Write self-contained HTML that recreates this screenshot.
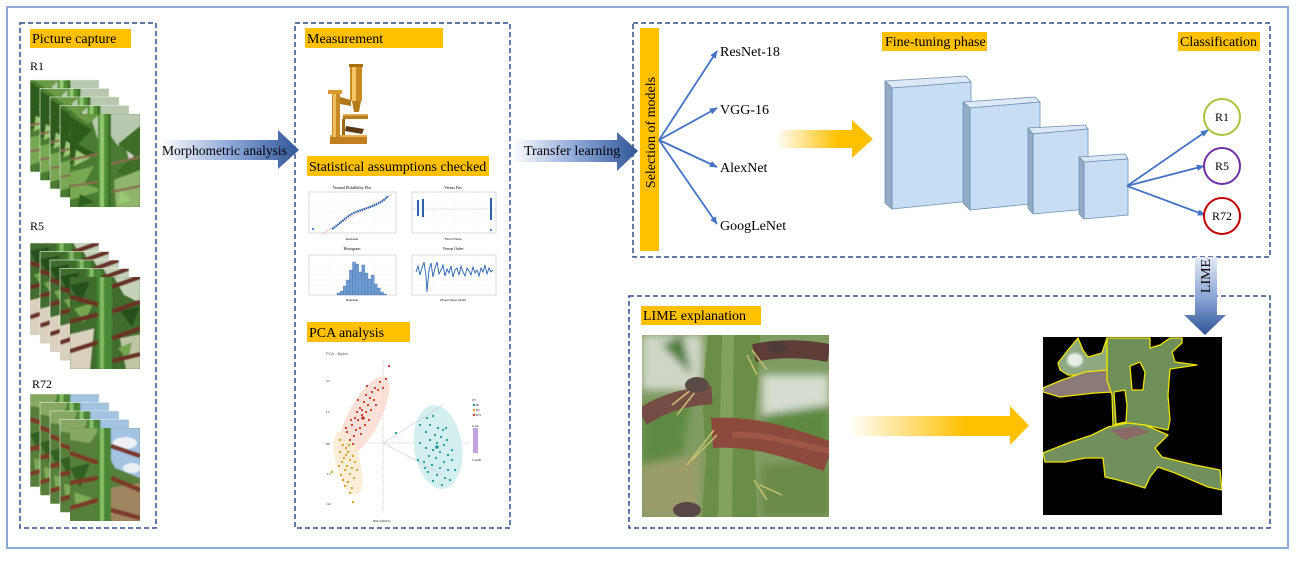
<!DOCTYPE html>
<html><head><meta charset="utf-8">
<style>
html,body{margin:0;padding:0;background:#fff;}
svg{display:block;}
text{font-family:"Liberation Serif",serif;fill:#000;}
.s{font-family:"Liberation Sans",sans-serif;fill:#555;}
</style></head><body>
<svg width="1298" height="562" viewBox="0 0 1298 562" xmlns="http://www.w3.org/2000/svg">
<defs>
<linearGradient id="gb" x1="0" x2="1" y1="0" y2="0">
 <stop offset="0" stop-color="#ffffff"/><stop offset="0.5" stop-color="#8fa9da"/><stop offset="1" stop-color="#2f5597"/>
</linearGradient>
<linearGradient id="gbv" x1="0" x2="0" y1="0" y2="1">
 <stop offset="0" stop-color="#e4eaf5"/><stop offset="0.5" stop-color="#8ea8d8"/><stop offset="1" stop-color="#2f5597"/>
</linearGradient>
<linearGradient id="gy" x1="0" x2="1" y1="0" y2="0">
 <stop offset="0" stop-color="#ffffff"/><stop offset="0.65" stop-color="#ffc000"/><stop offset="1" stop-color="#ffc000"/>
</linearGradient>
<marker id="ah" viewBox="0 0 10 10" refX="9" refY="5" markerWidth="8" markerHeight="8" markerUnits="userSpaceOnUse" orient="auto"><path d="M0 1 L10 5 L0 9 Z" fill="#4472c4"/></marker>
<filter id="bl" x="-10%" y="-10%" width="120%" height="120%"><feGaussianBlur stdDeviation="4"/></filter>
<filter id="bl2"><feGaussianBlur stdDeviation="1"/></filter>
<filter id="bl3"><feGaussianBlur stdDeviation="0.6"/></filter>

<symbol id="p1" viewBox="0 0 70 93" preserveAspectRatio="none">
<g filter="url(#bl3)">
<rect x="-2" y="-2" width="74" height="97" fill="#4a7c30"/>
<path d="M20 0H70V28L58 22L48 32L38 18L28 26Z" fill="#b7c8ae"/>
<path d="M55 30L70 35V55L60 50Z" fill="#c9d4c2"/>
<path d="M0 2L22 16L8 30L26 40L0 50Z" fill="#2d5a1e"/>
<path d="M70 12L48 30L64 42L46 58L70 66Z" fill="#3d6d28"/>
<path d="M0 58L24 52L14 70L34 76L0 86Z" fill="#78a852"/>
<path d="M44 66L70 56V93H46Z" fill="#8fb46c"/>
<path d="M4 0L18 10L30 0Z" fill="#6a9a44"/>
<path d="M6 36L20 44L4 52Z M50 76L62 86L48 90Z" fill="#9cc875"/>
<path d="M10 80L24 88L8 93Z" fill="#2f5d22"/>
<rect x="28" y="0" width="13" height="93" fill="#4f8e34"/>
<rect x="30" y="0" width="4" height="93" fill="#93c970"/>
<rect x="38" y="0" width="3" height="93" fill="#3a6e26"/>
<path d="M0 46L28 40M41 50L70 43M41 78L70 72M0 72L28 68" stroke="#8b6b55" stroke-width="2.2"/>
</g>
</symbol>

<symbol id="p2" viewBox="0 0 70 93" preserveAspectRatio="none">
<g filter="url(#bl3)">
<rect x="-2" y="-2" width="74" height="97" fill="#3f6d2e"/>
<path d="M44 0H70V26L54 18Z" fill="#c5d2ba"/>
<path d="M0 58L24 52L20 93H0Z" fill="#d9d1bd"/>
<path d="M50 62L70 58V93H56Z" fill="#bfc4a2"/>
<path d="M0 8L20 4L10 28Z M50 34L70 30L62 50Z" fill="#284f1c"/>
<path d="M4 32L24 26L14 46Z M48 72L62 66L58 84Z" fill="#76a550"/>
<rect x="27" y="0" width="15" height="93" fill="#4a8636"/>
<rect x="30" y="0" width="4" height="93" fill="#84bc64"/>
<path d="M0 20L28 28M42 10L70 0M0 45L28 38M42 35L70 25M42 62L70 52M0 75L28 66M42 85L70 78" stroke="#6b3328" stroke-width="4.5"/>
</g>
</symbol>

<symbol id="p3" viewBox="0 0 70 93" preserveAspectRatio="none">
<g filter="url(#bl3)">
<rect x="-2" y="-2" width="74" height="97" fill="#567f3a"/>
<path d="M30 0H70V50L45 40L35 20Z" fill="#a3c3e2"/>
<ellipse cx="55" cy="15" rx="12" ry="6" fill="#eef2f6"/>
<ellipse cx="62" cy="40" rx="9" ry="5" fill="#eaeff4"/>
<path d="M0 0H30L20 15L0 12Z" fill="#86a862"/>
<path d="M40 60L70 55V93H40Z" fill="#9f8462"/>
<path d="M0 40L20 35L10 60Z" fill="#335f24"/>
<path d="M4 64L22 70L6 80Z" fill="#7eaa58"/>
<rect x="27" y="0" width="14" height="93" fill="#4a8634"/>
<rect x="30" y="0" width="4" height="93" fill="#86bf66"/>
<path d="M0 25L28 35M41 18L70 28M0 55L28 50M41 50L70 62M0 80L28 72M41 82L70 90" stroke="#7b3a2c" stroke-width="4.5"/>
</g>
</symbol>
</defs>

<!-- outer border -->
<rect x="7" y="7" width="1281" height="541" fill="none" stroke="#8eaadb" stroke-width="2"/>

<!-- dashed panels -->
<g fill="none" stroke="#2f4f8a" stroke-width="1.5" stroke-dasharray="5 3">
<rect x="20" y="23" width="136" height="505"/>
<rect x="295" y="23" width="215" height="505"/>
<rect x="633" y="23" width="637" height="234"/>
<rect x="629" y="296" width="641" height="232"/>
</g>

<!-- labels -->
<g fill="#ffc000">
<rect x="30" y="29" width="101" height="19"/>
<rect x="305" y="28" width="138" height="20"/>
<rect x="307" y="156" width="182" height="20"/>
<rect x="307" y="322" width="103" height="20"/>
<rect x="882" y="32" width="105" height="19"/>
<rect x="1178" y="32" width="82" height="19"/>
<rect x="641" y="306" width="120" height="19"/>
<rect x="640" y="28" width="19" height="223"/>
</g>
<g font-size="14">
<text x="32" y="43">Picture capture</text>
<text x="307" y="43">Measurement</text>
<text x="309" y="171">Statistical assumptions checked</text>
<text x="309" y="337">PCA analysis</text>
<text x="885" y="46">Fine-tuning phase</text>
<text x="1180" y="46">Classification</text>
<text x="643" y="320">LIME explanation</text>
<text transform="translate(655,132.5) rotate(-90)" text-anchor="middle">Selection of models</text>
</g>

<!-- left photo stacks -->
<g font-size="12"><text x="30" y="70">R1</text><text x="30" y="230">R5</text><text x="32" y="388">R72</text></g>
<g>
<use href="#p1" x="30" y="80" width="69" height="92"/>
<rect x="30" y="80" width="69" height="92" fill="none" stroke="#f2f2f2" stroke-width="0.6"/>
<use href="#p1" x="40" y="88.5" width="69" height="92"/>
<rect x="40" y="88.5" width="69" height="92" fill="none" stroke="#f2f2f2" stroke-width="0.6"/>
<use href="#p1" x="50" y="97" width="69" height="92"/>
<rect x="50" y="97" width="69" height="92" fill="none" stroke="#f2f2f2" stroke-width="0.6"/>
<use href="#p1" x="60" y="105.5" width="69" height="92"/>
<rect x="60" y="105.5" width="69" height="92" fill="none" stroke="#f2f2f2" stroke-width="0.6"/>
<use href="#p1" x="70" y="114" width="70" height="93"/>

<use href="#p2" x="30" y="243" width="69" height="92"/>
<rect x="30" y="243" width="69" height="92" fill="none" stroke="#f2f2f2" stroke-width="0.6"/>
<use href="#p2" x="40" y="251.5" width="69" height="92"/>
<rect x="40" y="251.5" width="69" height="92" fill="none" stroke="#f2f2f2" stroke-width="0.6"/>
<use href="#p2" x="50" y="260" width="69" height="92"/>
<rect x="50" y="260" width="69" height="92" fill="none" stroke="#f2f2f2" stroke-width="0.6"/>
<use href="#p2" x="60" y="268.5" width="69" height="92"/>
<rect x="60" y="268.5" width="69" height="92" fill="none" stroke="#f2f2f2" stroke-width="0.6"/>
<use href="#p2" x="70" y="277" width="70" height="92"/>

<use href="#p3" x="30" y="394" width="69" height="93"/>
<rect x="30" y="394" width="69" height="93" fill="none" stroke="#f2f2f2" stroke-width="0.6"/>
<use href="#p3" x="40" y="402.5" width="69" height="93"/>
<rect x="40" y="402.5" width="69" height="93" fill="none" stroke="#f2f2f2" stroke-width="0.6"/>
<use href="#p3" x="50" y="411" width="69" height="93"/>
<rect x="50" y="411" width="69" height="93" fill="none" stroke="#f2f2f2" stroke-width="0.6"/>
<use href="#p3" x="60" y="419.5" width="69" height="93"/>
<rect x="60" y="419.5" width="69" height="93" fill="none" stroke="#f2f2f2" stroke-width="0.6"/>
<use href="#p3" x="70" y="428" width="70" height="93"/>
</g>

<!-- morphometric arrow -->
<path d="M160 140H278V130L299 150L278 169V160H160Z" fill="url(#gb)"/>
<text x="162" y="155" font-size="13.5">Morphometric analysis</text>

<!-- microscope -->
<g>
<rect x="330" y="135" width="37" height="9" fill="#c08020"/>
<rect x="330" y="135" width="37" height="2" fill="#e8b050"/>
<rect x="332" y="93" width="8" height="44" fill="#c88a25"/>
<rect x="333" y="93" width="3" height="44" fill="#f0c060"/>
<rect x="328" y="90" width="14" height="4" fill="#d89a30"/>
<path d="M340 97L351 100L351 106L340 104Z" fill="#b07818"/>
<rect x="350" y="64" width="12" height="37" fill="#c88a20"/>
<rect x="352" y="64" width="4" height="37" fill="#f2c866"/>
<rect x="349" y="64" width="14" height="3" fill="#a86e12"/>
<path d="M352 101H361L359 112H354Z" fill="#b27a1a"/>
<rect x="343" y="114" width="25" height="5" fill="#b98020"/>
<rect x="343" y="114" width="25" height="1.5" fill="#e8b860"/>
<path d="M346 126L364 129L362 134L345 131Z" fill="#5a3a10"/>
<rect x="342" y="119" width="3" height="16" fill="#a06a12"/>
</g>

<!-- stats plots -->
<g class="s" font-size="4" text-anchor="middle">
<text x="352" y="189">Normal Probability Plot</text>
<text x="453" y="189">Versus Fits</text>
<text x="352" y="250">Histogram</text>
<text x="453" y="250">Versus Order</text>
<text x="352" y="240" font-size="3.5">Residual</text>
<text x="453" y="240" font-size="3.5">Fitted Value</text>
<text x="352" y="301" font-size="3.5">Residual</text>
<text x="453" y="301" font-size="3.5">Observation Order</text>
</g>
<g fill="#fff" stroke="#c4c4c4" stroke-width="0.6">
<rect x="309" y="192" width="87" height="41"/>
<rect x="412" y="192" width="84" height="41"/>
<rect x="309" y="255" width="87" height="40"/>
<rect x="412" y="255" width="84" height="40"/>
</g>
<g stroke="#eeeeee" stroke-width="0.4">
<path d="M330 192V233M352 192V233M374 192V233M309 202H396M309 212H396M309 222H396"/>
<path d="M433 192V233M454 192V233M475 192V233M412 202H496M412 222H496"/>
<path d="M330 255V295M352 255V295M374 255V295M309 265H396M309 275H396M309 285H396"/>
<path d="M433 255V295M454 255V295M475 255V295M412 265H496M412 285H496"/>
</g>
<line x1="322" y1="234" x2="392" y2="194" stroke="#e06060" stroke-width="0.6" stroke-dasharray="1 1"/>
<path d="M332 229C340 224 346 216 356 212S376 206 384 200L388 196" stroke="#2a62b0" stroke-width="2" fill="none" stroke-dasharray="1.6 0.6"/>
<circle cx="313" cy="229" r="1" fill="#2a62b0"/>
<line x1="412" y1="209" x2="496" y2="209" stroke="#999" stroke-width="0.4" stroke-dasharray="1.5 1"/>
<g stroke="#2a62b0" stroke-width="2">
<line x1="418" y1="200" x2="418" y2="216"/><line x1="423" y1="199" x2="423" y2="217"/><line x1="491" y1="198" x2="491" y2="220"/>
</g>
<circle cx="491" cy="230" r="1" fill="#2a62b0"/>
<g fill="#6f9bd1" stroke="#3e6aa8" stroke-width="0.3">
<rect x="337" y="293" width="3.1" height="2"/>
<rect x="340.1" y="291" width="3.1" height="4"/>
<rect x="343.2" y="286" width="3.1" height="9"/>
<rect x="346.3" y="280" width="3.1" height="15"/>
<rect x="349.4" y="270" width="3.1" height="25"/>
<rect x="352.5" y="262" width="3.1" height="33"/>
<rect x="355.6" y="264" width="3.1" height="31"/>
<rect x="358.7" y="272" width="3.1" height="23"/>
<rect x="361.8" y="265" width="3.1" height="30"/>
<rect x="364.9" y="273" width="3.1" height="22"/>
<rect x="368" y="279" width="3.1" height="16"/>
<rect x="371.1" y="275" width="3.1" height="20"/>
<rect x="374.2" y="284" width="3.1" height="11"/>
<rect x="377.3" y="288" width="3.1" height="7"/>
<rect x="380.4" y="292" width="3.1" height="3"/>
<rect x="383.5" y="294" width="3.1" height="1"/>
</g>
<polyline fill="none" stroke="#2a62b0" stroke-width="0.9" points="416,272 418,266 420,275 422,268 424,262 426,276 427,292 429,270 431,263 433,277 435,268 437,262 439,274 441,270 443,265 445,276 447,269 449,273 451,266 453,277 455,270 457,268 459,275 461,266 463,272 465,276 467,268 469,271 471,275 473,267 475,273 477,270 479,276 481,268 483,272 485,265 487,274 489,268 491,272 493,270"/>

<!-- PCA -->
<text x="326" y="355" class="s" font-size="4">PCA - Biplot</text>
<line x1="383" y1="360" x2="383" y2="513" stroke="#aaa" stroke-width="0.5" stroke-dasharray="1.5 1"/>
<line x1="322" y1="443" x2="470" y2="443" stroke="#aaa" stroke-width="0.5" stroke-dasharray="1.5 1"/>
<ellipse cx="364" cy="417" rx="16" ry="45" transform="rotate(28 364 417)" fill="#fbd9d0" opacity="0.8"/>
<ellipse cx="348" cy="463" rx="12" ry="33" transform="rotate(-15 348 463)" fill="#fcebd2" opacity="0.85"/>
<ellipse cx="438" cy="447" rx="24" ry="42" transform="rotate(-8 438 447)" fill="#d3eff0"/>
<g stroke="#cfc3e0" stroke-width="0.7"><line x1="383" y1="443" x2="443" y2="405"/><line x1="383" y1="443" x2="443" y2="475"/></g>
<g fill="#c0392b">
<circle cx="350" cy="440" r="1.1"/><circle cx="354" cy="436" r="1.1"/><circle cx="347" cy="432" r="1.1"/><circle cx="356" cy="430" r="1.1"/><circle cx="352" cy="425" r="1.1"/><circle cx="360" cy="428" r="1.1"/><circle cx="358" cy="420" r="1.1"/><circle cx="362" cy="415" r="1.1"/><circle cx="355" cy="418" r="1.1"/><circle cx="366" cy="412" r="1.1"/><circle cx="360" cy="408" r="1.1"/><circle cx="368" cy="405" r="1.1"/><circle cx="364" cy="402" r="1.1"/><circle cx="370" cy="398" r="1.1"/><circle cx="358" cy="400" r="1.1"/><circle cx="372" cy="392" r="1.1"/><circle cx="366" cy="395" r="1.1"/><circle cx="375" cy="388" r="1.1"/><circle cx="362" cy="410" r="1.1"/><circle cx="357" cy="412" r="1.1"/><circle cx="369" cy="420" r="1.1"/><circle cx="351" cy="420" r="1.1"/><circle cx="346" cy="428" r="1.1"/><circle cx="371" cy="410" r="1.1"/><circle cx="374" cy="400" r="1.1"/><circle cx="380" cy="382" r="1.1"/><circle cx="378" cy="390" r="1.1"/><circle cx="353" cy="444" r="1.1"/><circle cx="361" cy="434" r="1.1"/><circle cx="365" cy="425" r="1.1"/><circle cx="376" cy="405" r="1.1"/><circle cx="367" cy="386" r="1.1"/><circle cx="389" cy="366" r="1.1"/><circle cx="386" cy="379" r="1.1"/><circle cx="383" cy="388" r="1.1"/><circle cx="363" cy="418" r="1.8"/>
</g>
<g fill="#d4a017">
<circle cx="340" cy="440" r="1.1"/><circle cx="343" cy="445" r="1.1"/><circle cx="346" cy="448" r="1.1"/><circle cx="340" cy="452" r="1.1"/><circle cx="348" cy="452" r="1.1"/><circle cx="344" cy="458" r="1.1"/><circle cx="350" cy="460" r="1.1"/><circle cx="342" cy="462" r="1.1"/><circle cx="347" cy="466" r="1.1"/><circle cx="352" cy="468" r="1.1"/><circle cx="345" cy="470" r="1.1"/><circle cx="350" cy="474" r="1.1"/><circle cx="341" cy="475" r="1.1"/><circle cx="354" cy="478" r="1.1"/><circle cx="348" cy="482" r="1.1"/><circle cx="345" cy="486" r="1.1"/><circle cx="352" cy="488" r="1.1"/><circle cx="357" cy="470" r="1.1"/><circle cx="339" cy="466" r="1.1"/><circle cx="355" cy="462" r="1.1"/><circle cx="349" cy="445" r="1.1"/><circle cx="346" cy="455" r="1.1"/><circle cx="353" cy="456" r="1.1"/><circle cx="343" cy="480" r="1.1"/><circle cx="350" cy="493" r="1.1"/><circle cx="332" cy="472" r="1.1"/><circle cx="353" cy="502" r="1.1"/>
</g>
<g fill="#1a9a9a">
<circle cx="427" cy="418" r="1.1"/><circle cx="433" cy="416" r="1.1"/><circle cx="430" cy="425" r="1.1"/><circle cx="438" cy="428" r="1.1"/><circle cx="443" cy="430" r="1.1"/><circle cx="426" cy="432" r="1.1"/><circle cx="435" cy="435" r="1.1"/><circle cx="441" cy="437" r="1.1"/><circle cx="447" cy="440" r="1.1"/><circle cx="430" cy="440" r="1.1"/><circle cx="437" cy="443" r="1.1"/><circle cx="444" cy="445" r="1.1"/><circle cx="420" cy="443" r="1.1"/><circle cx="426" cy="448" r="1.1"/><circle cx="433" cy="450" r="1.1"/><circle cx="440" cy="452" r="1.1"/><circle cx="448" cy="455" r="1.1"/><circle cx="452" cy="460" r="1.1"/><circle cx="429" cy="456" r="1.1"/><circle cx="436" cy="458" r="1.1"/><circle cx="444" cy="462" r="1.1"/><circle cx="424" cy="462" r="1.1"/><circle cx="432" cy="465" r="1.1"/><circle cx="440" cy="468" r="1.1"/><circle cx="448" cy="470" r="1.1"/><circle cx="455" cy="470" r="1.1"/><circle cx="428" cy="472" r="1.1"/><circle cx="437" cy="475" r="1.1"/><circle cx="445" cy="478" r="1.1"/><circle cx="450" cy="480" r="1.1"/><circle cx="433" cy="481" r="1.1"/><circle cx="442" cy="485" r="1.1"/><circle cx="425" cy="468" r="1.1"/><circle cx="418" cy="460" r="1.1"/><circle cx="452" cy="450" r="1.1"/><circle cx="446" cy="428" r="1.1"/><circle cx="420" cy="425" r="1.1"/><circle cx="396" cy="433" r="1.1"/><circle cx="437" cy="447" r="1.8"/>
</g>
<g class="s" font-size="3">
<text x="326" y="382">2.5</text><text x="326" y="413">1.5</text><text x="326" y="445">0.0</text><text x="326" y="475">-1.5</text><text x="326" y="505">-3.0</text>
<text x="373" y="522">Dim1 (60.0%)</text>
<text x="472" y="401">CV</text><text x="476" y="406">R1</text><text x="476" y="411">R5</text><text x="476" y="416">R72</text>
<text x="472" y="427">Cos2</text><text x="472" y="461">Contrib</text>
</g>
<circle cx="474" cy="405" r="1.2" fill="#1a9a9a"/><circle cx="474" cy="410" r="1.2" fill="#d4a017"/><circle cx="474" cy="415" r="1.2" fill="#c0392b"/>
<rect x="473" y="428" width="5" height="25" fill="#c3a3dc"/>

<!-- transfer learning arrow -->
<path d="M512 140H617V132L638 151L617 171V162H512Z" fill="url(#gb)"/>
<text x="524" y="155" font-size="14">Transfer learning</text>

<!-- fan arrows -->
<g stroke="#4472c4" stroke-width="1.8" fill="none" marker-end="url(#ah)">
<line x1="659" y1="140" x2="717" y2="51"/>
<line x1="659" y1="140" x2="717" y2="108"/>
<line x1="659" y1="140" x2="717" y2="167"/>
<line x1="659" y1="140" x2="717" y2="224"/>
</g>
<g font-size="14">
<text x="720" y="56">ResNet-18</text>
<text x="720" y="114">VGG-16</text>
<text x="720" y="172">AlexNet</text>
<text x="720" y="230">GoogLeNet</text>
</g>

<!-- yellow arrow top -->
<path d="M775 130H852V120L873 139L852 158V148H775Z" fill="url(#gy)"/>

<!-- 3D boxes -->
<g stroke="#6f8fb0" stroke-width="0.8" stroke-linejoin="round">
<path d="M885 81L966 76L971 82L892 88Z" fill="#dce8f5"/>
<path d="M892 88L971 82L971 201L892 209Z" fill="#c6ddf4"/>
<path d="M885 81L892 88L892 209L885 203Z" fill="#93abc4"/>

<path d="M963 102L1035 97L1040 102L970 108Z" fill="#dce8f5"/>
<path d="M970 108L1040 102L1040 203L970 210Z" fill="#c6ddf4"/>
<path d="M963 102L970 108L970 210L963 203Z" fill="#93abc4"/>

<path d="M1028 128L1085 125L1088 129L1033 134Z" fill="#dce8f5"/>
<path d="M1033 134L1088 129L1088 209L1033 214Z" fill="#c6ddf4"/>
<path d="M1028 128L1033 134L1033 214L1028 208Z" fill="#93abc4"/>

<path d="M1079 157L1125 154L1128 159L1084 162Z" fill="#dce8f5"/>
<path d="M1084 162L1128 159L1128 215L1084 219Z" fill="#c6ddf4"/>
<path d="M1079 157L1084 162L1084 219L1079 214Z" fill="#93abc4"/>
</g>

<!-- classification arrows -->
<g stroke="#4472c4" stroke-width="1.8" fill="none" marker-end="url(#ah)">
<line x1="1127" y1="186" x2="1208" y2="130"/>
<line x1="1127" y1="186" x2="1204" y2="166"/>
<line x1="1127" y1="186" x2="1205" y2="215"/>
</g>
<g fill="#fff" stroke-width="2">
<circle cx="1222" cy="117" r="18" stroke="#a9c43c"/>
<circle cx="1222" cy="166" r="18" stroke="#7030a0"/>
<circle cx="1222" cy="216" r="18" stroke="#c00000"/>
</g>
<g font-size="12" text-anchor="middle">
<text x="1222" y="121">R1</text><text x="1222" y="170">R5</text><text x="1222" y="220">R72</text>
</g>

<!-- LIME arrow -->
<path d="M1195 257H1217V315H1226L1205 335L1184 315H1195Z" fill="url(#gbv)"/>
<text transform="translate(1210,276) rotate(-90)" text-anchor="middle" font-size="14">LIME</text>

<!-- LIME left photo -->
<svg x="642" y="335" width="187" height="182" viewBox="0 0 187 182">
<rect width="187" height="182" fill="#7f9c63"/>
<g filter="url(#bl)">
<rect x="0" y="0" width="60" height="55" fill="#cfd6c6"/>
<rect x="120" y="40" width="67" height="40" fill="#d6dccf"/>
<path d="M0 70L50 60L40 120L0 130Z" fill="#5f8a45"/>
<path d="M120 80L187 70V120L130 110Z" fill="#5d8a40"/>
<path d="M0 130L60 120L55 182H0Z" fill="#9a9d6a"/>
<path d="M120 130L187 125V182H120Z" fill="#6a8a4a"/>
<path d="M20 10L40 0L50 40Z" fill="#4e7a38"/>
</g>
<path d="M66 0H118L116 40L112 90L115 182H60L64 120L60 60Z" fill="#6a8d47"/>
<path d="M80 0H92L90 182H76Z" fill="#86a862" opacity="0.8"/>
<path d="M0 82C25 66 45 62 70 60" stroke="#764c46" stroke-width="18" fill="none"/>
<path d="M112 18C140 12 165 14 187 18" stroke="#5e3c38" stroke-width="18" fill="none"/>
<path d="M70 98C110 95 150 108 187 122" stroke="#8c4a3e" stroke-width="30" fill="none"/>
<path d="M90 100C120 98 150 108 187 116" stroke="#a85f50" stroke-width="6" fill="none" opacity="0.6"/>
<path d="M60 48L35 80M55 50L30 70M72 95L45 130M75 100L50 125M105 20L115 40M110 15L125 35M118 150L140 160M112 145L125 165" stroke="#c8c070" stroke-width="1.5"/>
<ellipse cx="55" cy="50" rx="12" ry="8" fill="#5a4a48"/>
<ellipse cx="135" cy="12" rx="10" ry="6" fill="#4e3c3a"/>
<ellipse cx="45" cy="175" rx="14" ry="8" fill="#5a4848"/>
</svg>

<!-- yellow arrow bottom -->
<path d="M849 416H1010V406L1029 425.5L1010 445V436H849Z" fill="url(#gy)"/>

<!-- LIME explained image -->
<svg x="1043" y="337" width="179" height="178" viewBox="1043 337 179 178">
<rect x="1043" y="337" width="179" height="178" fill="#000"/>
<g stroke="#f0e400" stroke-width="1.3" stroke-linejoin="round">
<path d="M1058 363L1068 350L1078 338L1083 350L1088 357L1102 353L1107 338V372L1088 375L1068 375L1060 370Z" fill="#8ea882"/>
<path d="M1043 388L1062 380L1085 372L1107 370L1117 382L1113 392L1095 393L1068 396L1060 397L1043 392Z" fill="#8a7a78"/>
<path d="M1107 338H1150L1150 348L1160 345L1170 338H1182V343L1172 352L1175 362L1197 365L1170 369L1168 395L1170 420L1168 430L1145 425L1128 423L1113 425L1112 395L1107 380Z" fill="#6e8f58"/>
<path d="M1043 453L1068 443L1092 435L1108 427L1128 423L1145 425L1168 435L1155 448L1162 457L1195 465L1220 470L1222 490L1208 487L1175 473L1158 467L1150 477L1145 488L1132 484L1118 480L1105 477L1103 458L1085 458L1065 462L1045 462Z" fill="#728f5e"/>
<path d="M1130 366L1140 362L1145 372L1143 390L1132 390Z" fill="#000"/>
<path d="M1114 392L1125 390L1127 405L1126 422L1116 424Z" fill="#000"/>
</g>
<ellipse cx="1075" cy="360" rx="8" ry="7" fill="#e6ece6" filter="url(#bl2)"/>
<path d="M1110 430L1135 426L1150 432L1125 440Z" fill="#8a6a68"/>
</svg>

</svg>
</body></html>
